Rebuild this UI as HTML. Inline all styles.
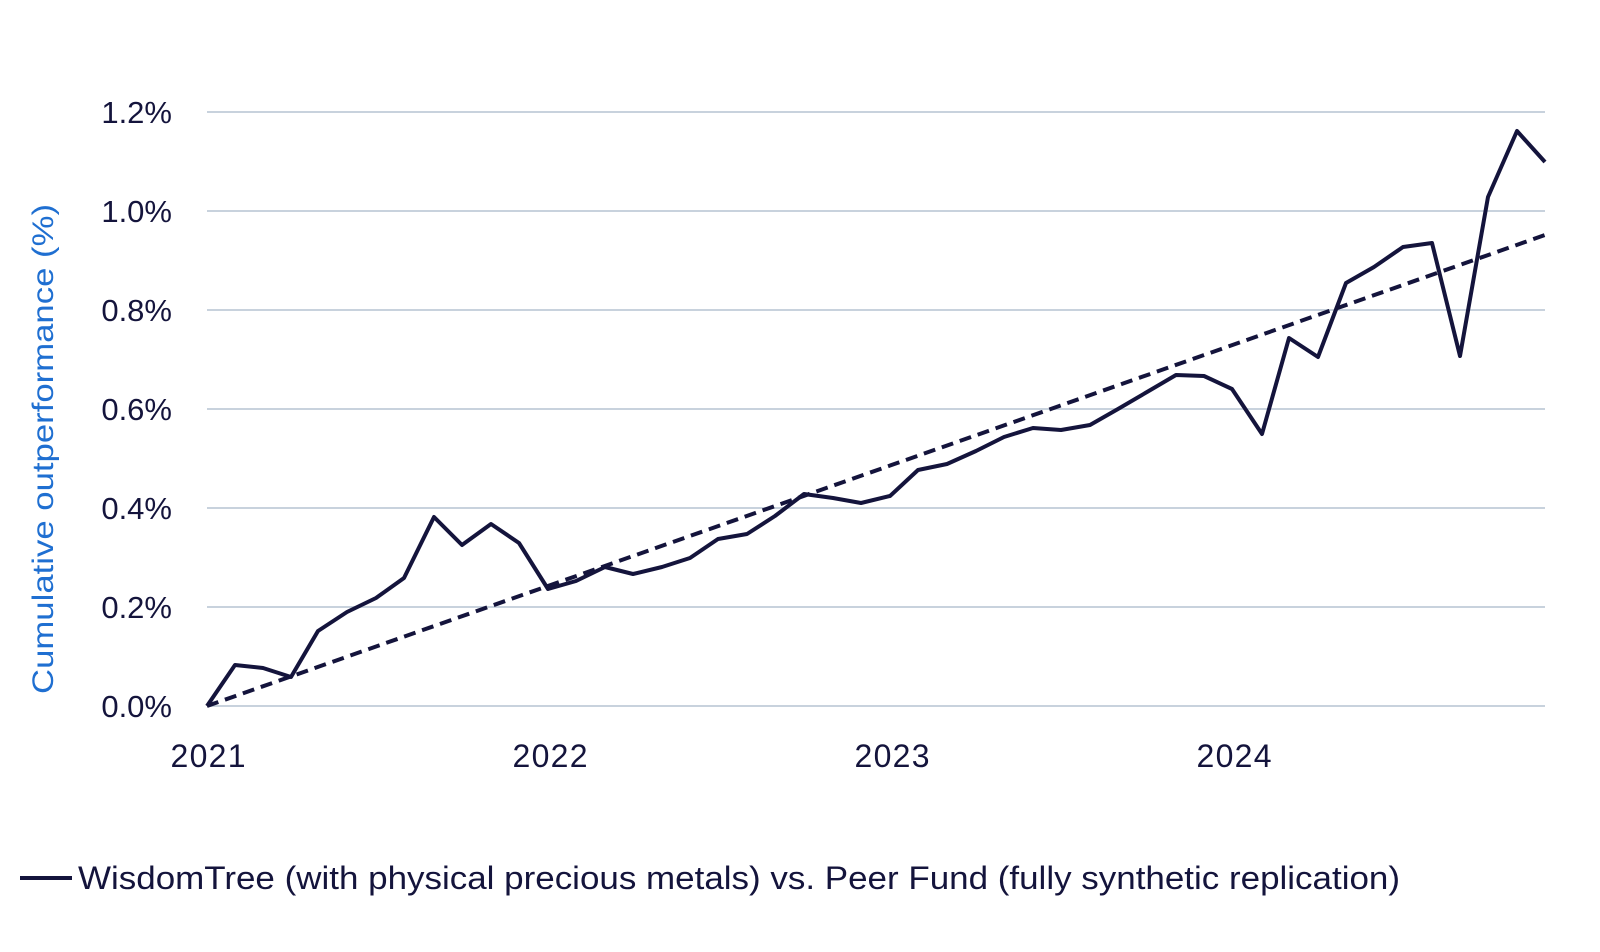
<!DOCTYPE html>
<html><head><meta charset="utf-8"><style>
html,body{margin:0;padding:0;background:#fff;}
svg text{font-family:"Liberation Sans",sans-serif;}
</style></head><body>
<svg width="1600" height="947" viewBox="0 0 1600 947" xmlns="http://www.w3.org/2000/svg">
<g stroke="#c8d2dd" stroke-width="2">
<line x1="207" y1="112" x2="1545" y2="112"/>
<line x1="207" y1="211" x2="1545" y2="211"/>
<line x1="207" y1="310" x2="1545" y2="310"/>
<line x1="207" y1="409" x2="1545" y2="409"/>
<line x1="207" y1="508" x2="1545" y2="508"/>
<line x1="207" y1="607" x2="1545" y2="607"/>
<line x1="207" y1="706" x2="1545" y2="706"/>
</g>
<g fill="#14143c" font-size="31" text-anchor="end">
<text x="172" y="123">1.2%</text>
<text x="172" y="222">1.0%</text>
<text x="172" y="321">0.8%</text>
<text x="172" y="420">0.6%</text>
<text x="172" y="519">0.4%</text>
<text x="172" y="618">0.2%</text>
<text x="172" y="717">0.0%</text>
</g>
<g fill="#14143c" font-size="32" text-anchor="middle">
<text x="208" y="767" textLength="75">2021</text>
<text x="550" y="767" textLength="75">2022</text>
<text x="892" y="767" textLength="75">2023</text>
<text x="1234" y="767" textLength="75">2024</text>
</g>
<text transform="translate(53,449) rotate(-90)" fill="#1f6fd1" font-size="30" text-anchor="middle" textLength="490" lengthAdjust="spacingAndGlyphs">Cumulative outperformance (%)</text>
<line x1="207" y1="706" x2="1545" y2="235" stroke="#14143c" stroke-width="4" stroke-dasharray="12,7"/>
<polyline fill="none" stroke="#14143c" stroke-width="4" stroke-linejoin="round" points="207,706 235,665 263,668 291,677 318,631 347,612 376,598 404,578 434,517 462,545 491,524 519,543 548,589 576,581 605,567 633,574 662,567 690,558 718,539 747,534 775,516 804,494 833,498 861,503 890,496 918,470 947,464 976,451 1004,437 1033,428 1061,430 1090,425 1118,409 1147,392 1176,375 1204,376 1232,389 1262,434 1289,338 1318,357 1346,283 1374,267 1403,247 1432,243 1460,356 1488,197 1517,131 1545,162"/>
<line x1="20" y1="878" x2="72" y2="878" stroke="#14143c" stroke-width="4"/>
<text x="78" y="889" fill="#14143c" font-size="32" textLength="1322" lengthAdjust="spacingAndGlyphs">WisdomTree (with physical precious metals) vs. Peer Fund (fully synthetic replication)</text>
</svg>
</body></html>
